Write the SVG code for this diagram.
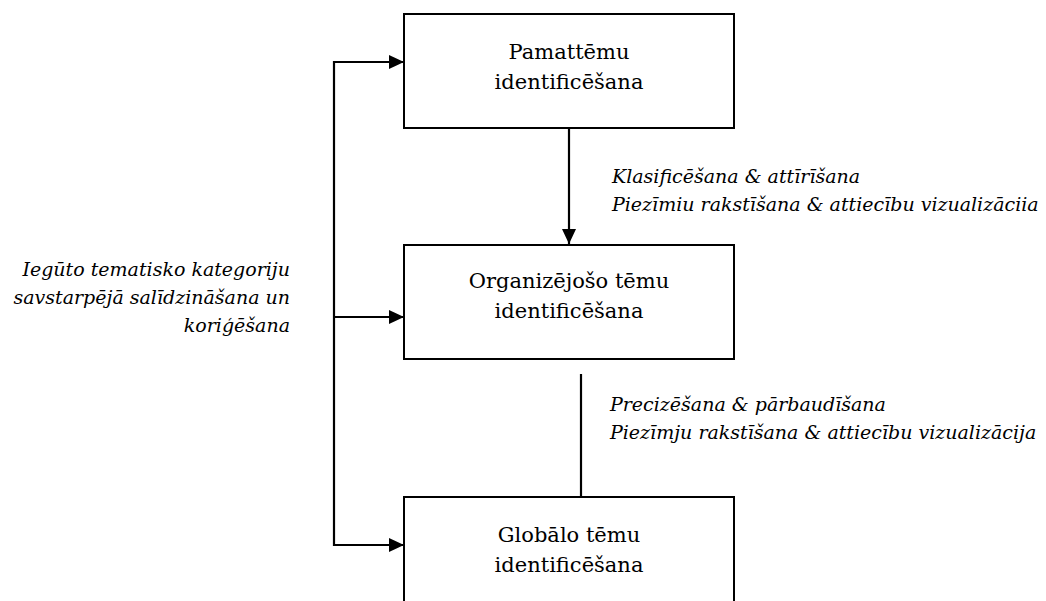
<svg xmlns="http://www.w3.org/2000/svg" width="1046" height="601" viewBox="0 0 1046 601">
<style>
.box{fill:#fff;stroke:#000;stroke-width:2}
.t{font-family:"DejaVu Serif","Liberation Serif",serif;font-size:21px;fill:#000;text-anchor:middle}
.lbl{font-family:"DejaVu Serif","Liberation Serif",serif;font-size:19px;font-style:italic;fill:#000}
.c{stroke:#000;stroke-width:2.2;fill:none}
</style>
<defs>
<marker id="ah" viewBox="0 0 15 14" refX="15" refY="7" markerWidth="15" markerHeight="14" markerUnits="userSpaceOnUse" orient="auto">
<path d="M0,0 L15,7 L0,14 Z" fill="#000"/>
</marker>
</defs>
<rect width="1046" height="601" fill="#fff"/>
<g id="connectors">
<line class="c" x1="569" y1="128" x2="569" y2="244" marker-end="url(#ah)"/>
<line class="c" x1="581" y1="374" x2="581" y2="497" stroke-width="1.6"/>
<polyline class="c" points="390,62 334,62 334,545 390,545"/>
<line class="c" x1="334" y1="62" x2="404" y2="62" marker-end="url(#ah)"/>
<line class="c" x1="334" y1="317" x2="404" y2="317" marker-end="url(#ah)"/>
<line class="c" x1="334" y1="545" x2="404" y2="545" marker-end="url(#ah)"/>
</g>
<g id="n1">
<rect class="box" x="404" y="14" width="330" height="114"/>
<text class="t" x="569" y="59">Pamattēmu</text>
<text class="t" x="569" y="89">identificēšana</text>
</g>
<g id="n2">
<rect class="box" x="404" y="245" width="330" height="114"/>
<text class="t" x="569" y="288">Organizējošo tēmu</text>
<text class="t" x="569" y="318">identificēšana</text>
</g>
<g id="n3">
<rect class="box" x="404" y="497" width="330" height="120"/>
<text class="t" x="569" y="542">Globālo tēmu</text>
<text class="t" x="569" y="572">identificēšana</text>
</g>
<g id="labels">
<text class="lbl" x="612" y="183">Klasificēšana &amp; attīrīšana</text>
<text class="lbl" x="612" y="211">Piezīmiu rakstīšana &amp; attiecību vizualizāciia</text>
<text class="lbl" x="610" y="411">Precizēšana &amp; pārbaudīšana</text>
<text class="lbl" x="610" y="439">Piezīmju rakstīšana &amp; attiecību vizualizācija</text>
<text class="lbl" x="290" y="276" text-anchor="end">Iegūto tematisko kategoriju</text>
<text class="lbl" x="290" y="304" text-anchor="end">savstarpējā salīdzināšana un</text>
<text class="lbl" x="290" y="332" text-anchor="end">koriģēšana</text>
</g>
</svg>
